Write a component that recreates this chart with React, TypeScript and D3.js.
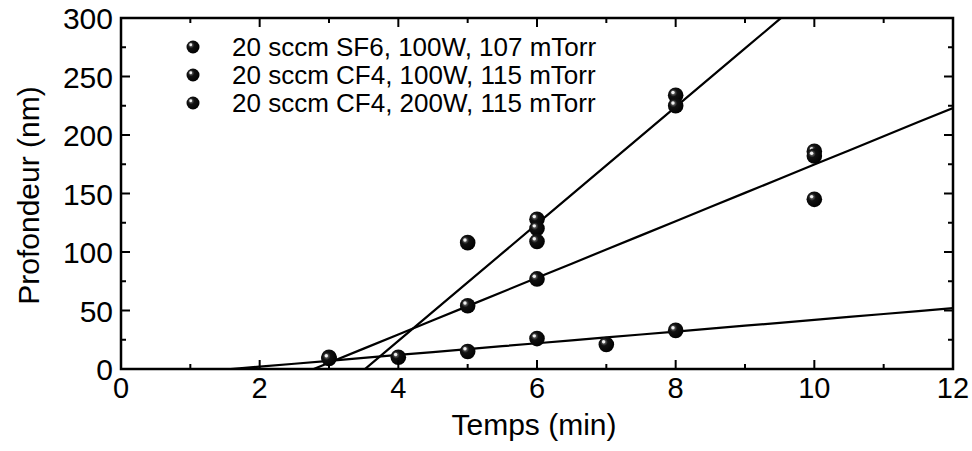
import React from "react";
import * as d3 from "d3";

const seriesNames = [
  "20 sccm SF6, 100W, 107 mTorr",
  "20 sccm CF4, 100W, 115 mTorr",
  "20 sccm CF4, 200W, 115 mTorr",
];
// points per series: [time (min), depth (nm)]
const sf6Points: [number, number][] = [
  [5, 108], [6, 128], [6, 120], [6, 109], [8, 234], [8, 225],
];
const cf4LowPoints: [number, number][] = [
  [3, 10], [4, 10], [5, 15], [6, 26], [7, 21], [8, 33],
];
const cf4HighPoints: [number, number][] = [
  [3, 9], [5, 54], [6, 77], [10, 186], [10, 182], [10, 145],
];
// linear fits: slope (nm/min), x intercept (min)
const fitSlopes = [50, 5.0, 24.2];
const fitIntercepts = [3.52, 1.6, 2.78];

const xTicks = [0, 2, 4, 6, 8, 10, 12];
const xMinor = [1, 3, 5, 7, 9, 11];
const yTicks = [0, 50, 100, 150, 200, 250, 300];
const yMinor = [25, 75, 125, 175, 225, 275];

const W = 972, H = 451;
const L = 121, R = 953, T = 18, B = 369;

export default function App() {
  const x = d3.scaleLinear().domain([0, 12]).range([L, R]);
  const y = d3.scaleLinear().domain([0, 300]).range([B, T]);
  const font = "'Liberation Sans', Arial, Helvetica, sans-serif";
  const allPts = [sf6Points, cf4LowPoints, cf4HighPoints];
  const line = d3.line<[number, number]>().x((d) => x(d[0])).y((d) => y(d[1]));
  const fitLines = fitSlopes.map((s, i) => {
    const pts: [number, number][] = d3.range(0, 12.01, 0.5).map((t) => [t, s * (t - fitIntercepts[i])]);
    return line(pts) as string;
  });
  const marker = (cx: number, cy: number, r: number, key: string) => (
    <g key={key}>
      <circle cx={cx} cy={cy} r={r} fill="url(#ball)" />
      <circle cx={cx - r * 0.35} cy={cy - r * 0.35} r={r * 0.22} fill="#fff" opacity={0.9} />
    </g>
  );
  return (
    <svg width={W} height={H} style={{ position: "absolute", left: 0, top: 0, background: "#fff" }}>
      <defs>
        <clipPath id="clip">
          <rect x={L} y={T} width={R - L} height={B - T} />
        </clipPath>
        <radialGradient id="ball" cx="35%" cy="35%" r="70%">
          <stop offset="0%" stopColor="#888" />
          <stop offset="35%" stopColor="#111" />
          <stop offset="100%" stopColor="#000" />
        </radialGradient>
      </defs>
      <rect width={W} height={H} fill="#fff" />
      <g clipPath="url(#clip)">
        {fitLines.map((p, i) => (
          <path key={i} d={p} fill="none" stroke="#000" strokeWidth={2.2} />
        ))}
      </g>
      {allPts.map((pts, si) =>
        pts.map((p, i) => marker(x(p[0]), y(p[1]), 7.8, `${si}-${i}`))
      )}
      {/* frame */}
      <rect x={L} y={T} width={R - L} height={B - T} fill="none" stroke="#000" strokeWidth={2.5} />
      {/* ticks */}
      {xTicks.map((t) => (
        <g key={"xt" + t}>
          <line x1={x(t)} x2={x(t)} y1={B} y2={B - 9} stroke="#000" strokeWidth={2} />
          <line x1={x(t)} x2={x(t)} y1={T} y2={T + 9} stroke="#000" strokeWidth={2} />
          <text x={x(t)} y={398} textAnchor="middle" fontFamily={font} fontSize={29} fill="#000">{t}</text>
        </g>
      ))}
      {xMinor.map((t) => (
        <g key={"xm" + t}>
          <line x1={x(t)} x2={x(t)} y1={B} y2={B - 5} stroke="#000" strokeWidth={2} />
          <line x1={x(t)} x2={x(t)} y1={T} y2={T + 5} stroke="#000" strokeWidth={2} />
        </g>
      ))}
      {yTicks.map((t) => (
        <g key={"yt" + t}>
          <line x1={L} x2={L + 9} y1={y(t)} y2={y(t)} stroke="#000" strokeWidth={2} />
          <line x1={R} x2={R - 9} y1={y(t)} y2={y(t)} stroke="#000" strokeWidth={2} />
          <text x={113} y={y(t) + 11} textAnchor="end" fontFamily={font} fontSize={30} fill="#000">{t}</text>
        </g>
      ))}
      {yMinor.map((t) => (
        <g key={"ym" + t}>
          <line x1={L} x2={L + 5} y1={y(t)} y2={y(t)} stroke="#000" strokeWidth={2} />
          <line x1={R} x2={R - 5} y1={y(t)} y2={y(t)} stroke="#000" strokeWidth={2} />
        </g>
      ))}
      {/* axis titles */}
      <text x={(L + R) / 2 - 3} y={435} textAnchor="middle" fontFamily={font} fontSize={30} fill="#000">Temps (min)</text>
      <text transform={`translate(39, ${(T + B) / 2 + 2}) rotate(-90)`} textAnchor="middle" fontFamily={font} fontSize={30} fill="#000">Profondeur (nm)</text>
      {/* legend */}
      {seriesNames.map((n, i) => (
        <g key={"lg" + i}>
          {marker(193, 47 + i * 28, 6.5, "lm" + i)}
          <text x={232} y={56 + i * 28} fontFamily={font} fontSize={26} fill="#000">{n}</text>
        </g>
      ))}
    </svg>
  );
}
